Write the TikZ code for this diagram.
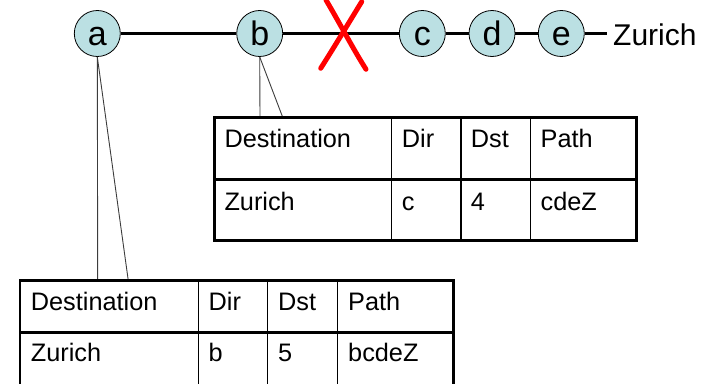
\documentclass[tikz,border=0pt]{standalone}
\usepackage{fontspec}
\setmainfont{Liberation Sans}
\definecolor{nodefill}{RGB}{187,224,227}
\definecolor{calloutgray}{RGB}{60,60,60}
\newcommand{\rlabel}[1]{\smash{\raisebox{-11.5pt}{#1}}}
\tikzset{
  router/.style={circle, draw=black, line width=0.8pt, fill=nodefill, minimum size=46pt, inner sep=0pt, font=\fontsize{34}{34}\selectfont},
  link/.style={line width=3.5pt, black},
  callout/.style={line width=0.9pt, calloutgray},
  cell/.style={anchor=base west, inner sep=0pt, font=\fontsize{25.3}{25.3}\selectfont},
  outer/.style={line width=2.6pt, black},
  inner/.style={line width=1.2pt, black},
  cross/.style={line width=5pt, red, line cap=round},
}
\begin{document}
\begin{tikzpicture}[x=1pt, y=-1pt]
\useasboundingbox (0,0) rectangle (711,383);
\clip (0,0) rectangle (711,383);

% routers
\node[router] (a) at (97.3,33.5) {\rlabel{a}};
\node[router] (b) at (259.7,33.5) {\rlabel{b}};
\node[router] (c) at (422.3,33.5) {\rlabel{c}};
\node[router] (d) at (492,33.5) {\rlabel{d}};
\node[router] (e) at (561.3,33.5) {\rlabel{e}};
\coordinate (zend) at (606.7,33.5);
\node[anchor=base west, inner sep=0pt, font=\fontsize{30}{30}\selectfont] (zur) at (613,45) {Zurich};

\draw[link] (a) -- (b);
\draw[link] (b) -- (c);
\draw[link] (c) -- (d);
\draw[link] (d) -- (e);
\draw[link] (e) -- (zend);

% red cross
\draw[cross] (320.7,68.3) .. controls (333,49) and (345,29) .. (361.7,1.7);
\draw[cross] (326,0) .. controls (343,29) and (352,47) .. (366,69.3);

% table 1 (router b)
\coordinate (t1a) at (260,117.3);
\coordinate (t1b) at (282.7,117.3);
\draw[callout] (b.south) -- (t1a);
\draw[callout] (b.south) -- (t1b);
\draw[inner] (391.7,117.3) -- (391.7,240.7);
\draw[inner] (461,117.3) -- (461,240.7);
\draw[inner] (530.7,117.3) -- (530.7,240.7);
\draw[outer] (214.3,179.3) -- (636.7,179.3);
\draw[outer] (214.3,117.3) rectangle (636.7,240.7);
\node[cell] (h1a) at (224.3,147.3) {Destination};
\node[cell] (h1b) at (401.7,147.3) {Dir};
\node[cell] (h1c) at (470.7,147.3) {Dst};
\node[cell] (h1d) at (540.5,147.3) {Path};
\node[cell] (r1a) at (224.3,210) {Zurich};
\node[cell] (r1b) at (401.7,210) {c};
\node[cell] (r1c) at (470.7,210) {4};
\node[cell] (r1d) at (540.5,210) {cdeZ};

% table 2 (router a)
\coordinate (t2a) at (97.7,280.7);
\coordinate (t2b) at (128.3,280.7);
\draw[callout] (a.south) -- (t2a);
\draw[callout] (a.south) -- (t2b);
\draw[inner] (198.3,280.7) -- (198.3,400);
\draw[inner] (267.7,280.7) -- (267.7,400);
\draw[inner] (337.7,280.7) -- (337.7,400);
\draw[outer] (20,332.3) -- (453.3,332.3);
\draw[outer] (20,400) -- (20,280.7) -- (453.3,280.7) -- (453.3,400);
\node[cell] (h2a) at (30.7,310.7) {Destination};
\node[cell] (h2b) at (208.5,310.7) {Dir};
\node[cell] (h2c) at (278,310.7) {Dst};
\node[cell] (h2d) at (348,310.7) {Path};
\node[cell] (r2a) at (30.7,361.7) {Zurich};
\node[cell] (r2b) at (208.5,361.7) {b};
\node[cell] (r2c) at (278,361.7) {5};
\node[cell] (r2d) at (348,361.7) {bcdeZ};
\end{tikzpicture}
\end{document}
